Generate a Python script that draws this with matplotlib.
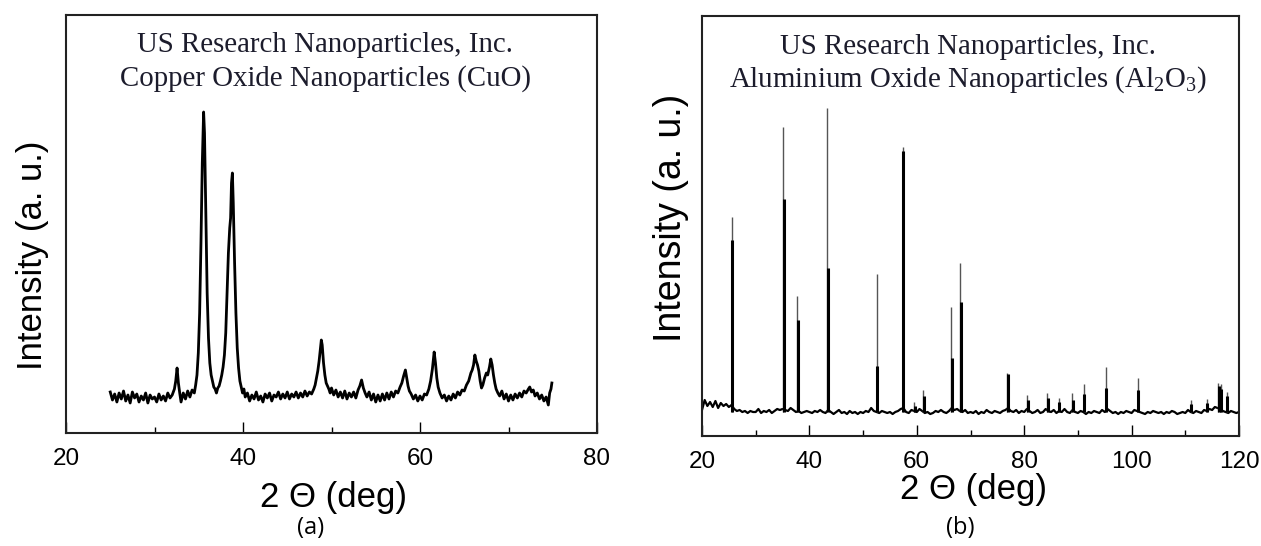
import numpy as np
import matplotlib
matplotlib.use('Agg')
import matplotlib.pyplot as plt
from matplotlib.ticker import MultipleLocator

plt.rcParams['font.family'] = 'Liberation Sans'
plt.rcParams['mathtext.fontset'] = 'custom'
plt.rcParams['mathtext.rm'] = 'Liberation Serif'

### (a) CuO pattern (intensity in a.u.) ###
cuo_two_theta = [
    25.0, 25.25, 25.5, 25.75, 26.0, 26.25, 26.5, 26.75, 27.0, 27.25, 27.5, 27.75, 28.0, 28.25, 28.5,
    28.75, 29.0, 29.25, 29.5, 29.75, 30.0, 30.25, 30.5, 30.75, 31.0, 31.25, 31.5, 31.75, 32.0,
    32.25, 32.4, 32.55, 32.7, 32.85, 33.0, 33.25, 33.5, 33.75, 34.0, 34.25, 34.5, 34.65, 34.8, 34.95,
    35.1, 35.25, 35.4, 35.55, 35.65, 35.8, 35.95, 36.1, 36.25, 36.4, 36.55, 36.7, 36.85, 37.0, 37.15,
    37.3, 37.45, 37.6, 37.75, 37.9, 38.05, 38.2, 38.35, 38.5, 38.6, 38.7, 38.8, 38.9, 39.05, 39.2,
    39.35, 39.5, 39.65, 39.8, 39.95, 40.1,
    40.25, 40.5, 40.75, 41.0, 41.25, 41.5, 41.75, 42.0, 42.25, 42.5, 42.75, 43.0, 43.25, 43.5, 43.75,
    44.0, 44.25, 44.5, 44.75, 45.0, 45.25, 45.5, 45.75, 46.0, 46.25, 46.5, 46.75, 47.0, 47.25, 47.5,
    47.75, 48.0,
    48.15, 48.3, 48.45, 48.6, 48.75, 48.85, 48.95, 49.1, 49.25, 49.4,
    49.55, 49.7, 49.85, 50.0, 50.25, 50.5, 50.75, 51.0, 51.25, 51.5,
    51.75, 52.0, 52.25, 52.5, 52.75, 53.0, 53.2, 53.4, 53.6, 53.8,
    54.0, 54.25, 54.5, 54.75, 55.0, 55.25, 55.5, 55.75, 56.0, 56.25,
    56.5, 56.75, 57.0, 57.25, 57.5, 57.75, 57.95, 58.15, 58.35, 58.5,
    58.65, 58.8, 59.0, 59.25, 59.5, 59.75, 60.0, 60.25, 60.5, 60.75,
    61.0, 61.2, 61.4, 61.6, 61.75, 61.9, 62.05, 62.25, 62.5, 62.75,
    63.0, 63.25, 63.5, 63.75, 64.0, 64.25, 64.5, 64.75, 65.0, 65.25,
    65.5, 65.75, 65.9, 66.05, 66.2, 66.35, 66.5, 66.65, 66.8, 66.95,
    67.1, 67.3, 67.5, 67.65, 67.85, 68.0, 68.15, 68.3, 68.45, 68.6,
    68.8, 69.0, 69.25, 69.5, 69.75, 70.0, 70.25, 70.5, 70.75, 71.0,
    71.25, 71.5, 71.75, 72.0, 72.25, 72.4, 72.6, 72.8, 73.0, 73.25,
    73.5, 73.75, 74.0, 74.25, 74.5, 74.65, 74.8, 74.9,
]
cuo_intensity = [
    41, 33, 39, 31, 40, 34, 42, 32, 38, 30, 41, 35, 39, 31, 37,
    33, 40, 30, 38, 34, 36, 31, 39, 33, 37, 32, 40, 35, 38,
    44, 52, 65, 50, 40, 31, 40, 34, 42, 36, 43, 40, 48, 58, 80,
    120, 190, 270, 321, 300, 220, 140, 95, 70, 58, 52, 46, 44, 40, 45,
    47, 52, 58, 66, 78, 100, 140, 180, 205, 215, 250, 260, 230, 170, 120,
    85, 65, 52, 46, 40, 44,
    36, 40, 32, 38, 34, 41, 33, 37, 31, 39, 35, 40, 32, 38, 36,
    41, 34, 39, 35, 41, 34, 39, 36, 41, 35, 40, 36, 42, 37, 41,
    39, 44,
    48, 55, 62, 72, 85, 93, 88, 70, 58, 50,
    47, 44, 40, 45, 38, 43, 36, 41, 35, 42,
    34, 40, 36, 41, 35, 43, 47, 53, 45, 40,
    36, 41, 33, 39, 31, 38, 32, 39, 33, 40,
    34, 41, 36, 42, 40, 46, 50, 57, 63, 55,
    47, 42, 39, 34, 38, 32, 37, 33, 39, 38,
    44, 52, 64, 81, 70, 55, 46, 40, 35, 38,
    32, 37, 33, 39, 35, 41, 38, 43, 42, 48,
    52, 60, 63, 68, 78, 72, 68, 62, 52, 45,
    48, 55, 60, 58, 66, 74, 68, 58, 50, 44,
    40, 37, 42, 34, 39, 32, 38, 33, 39, 35,
    40, 36, 42, 40, 44, 46, 41, 43, 37, 40,
    34, 38, 32, 36, 28, 40, 44, 50,
]

### (b) Al2O3 pattern: background every 0.5 deg + sharp reflections ###
al_bg_two_theta = np.linspace(20, 120, 201)
al_bg_intensity = [
    26, 36, 30, 34, 29, 35, 28, 33, 30, 32,
    29, 31, 27, 25, 26, 24, 25, 23, 25, 24,
    24, 27, 23, 25, 24, 26, 23, 25, 27, 26,
    27, 26, 25, 28, 26, 24, 25, 23, 24, 25,
    24, 23, 25, 24, 26, 24, 23, 26, 24, 22,
    24, 26, 23, 24, 22, 25, 23, 24, 22, 24,
    23, 25, 24, 28, 25, 24, 23, 25, 24, 23,
    24, 22, 24, 25, 27, 28, 24, 23, 26, 25,
    24, 27, 25, 23, 24, 22, 23, 25, 24, 26,
    24, 23, 25, 28, 26, 27, 25, 24, 26, 23,
    24, 23, 25, 22, 24, 23, 26, 24, 23, 25,
    24, 23, 25, 26, 28, 25, 24, 26, 23, 25,
    24, 27, 25, 23, 24, 26, 23, 24, 27, 25,
    24, 26, 23, 25, 24, 27, 24, 23, 26, 24,
    23, 25, 24, 22, 24, 23, 25, 24, 23, 26,
    24, 27, 25, 23, 24, 22, 24, 23, 25, 24,
    23, 26, 25, 24, 23, 22, 24, 23, 25, 24,
    23, 24, 22, 24, 23, 25, 24, 22, 23, 24,
    23, 26, 24, 23, 25, 24, 23, 26, 25, 27,
    26, 29, 28, 27, 25, 24, 23, 25, 24, 23,
    24,
]
al_peak_pos = [25.5, 35.1, 37.7, 43.3, 52.5, 57.4, 59.5, 61.2, 66.4, 68.1, 76.8, 80.6,
               84.3, 86.4, 88.9, 91.1, 95.2, 101.1, 111.0, 114.0, 116.1, 116.6, 117.7]
al_peak_top = [219, 309, 140, 328, 162, 289, 34, 46, 129, 173, 63, 41,
               43, 38, 43, 52, 69, 58, 36, 37, 53, 52, 44]
al_peak_core = [196, 237, 116, 168, 70, 285, 30, 40, 78, 134, 62, 36,
                38, 34, 36, 42, 48, 46, 32, 33, 50, 47, 40]
AL_BASE = 24

assert len(cuo_two_theta) == len(cuo_intensity)
assert len(al_bg_two_theta) == len(al_bg_intensity)

### Figure ###
fig = plt.figure(figsize=(12.61, 5.46), dpi=100)
ax_a = fig.add_axes([66 / 1261, 113 / 546, 531 / 1261, 418 / 546])
ax_b = fig.add_axes([702 / 1261, 110 / 546, 537 / 1261, 420 / 546])

title_color = '#1c1c2c'
serif = 'Liberation Serif'

def style_axes(ax, xmax, ymax):
    ax.set_xlim(20, xmax)
    ax.set_ylim(0, ymax)
    ax.set_yticks([])
    ax.xaxis.set_major_locator(MultipleLocator(20))
    ax.xaxis.set_minor_locator(MultipleLocator(10))
    ax.tick_params(axis='x', which='major', direction='in', length=8, width=1.0,
                   labelsize=17.5, pad=11, top=False)
    ax.tick_params(axis='x', which='minor', direction='in', length=4.5, width=1.0, top=False)
    for sp in ax.spines.values():
        sp.set_linewidth(1.5)
        sp.set_color('#222222')

# (a) CuO
ax_a.plot(cuo_two_theta, cuo_intensity, color='k', lw=2.0)
style_axes(ax_a, 80, 418)
ax_a.text(0.488, 0.928, 'US Research Nanoparticles, Inc.', transform=ax_a.transAxes,
          ha='center', va='center', fontsize=20.8, family=serif, color=title_color)
ax_a.text(0.488, 0.849, 'Copper Oxide Nanoparticles (CuO)', transform=ax_a.transAxes,
          ha='center', va='center', fontsize=20.8, family=serif, color=title_color)

# (b) Al2O3
ax_b.plot(al_bg_two_theta, al_bg_intensity, color='k', lw=1.6)
ax_b.vlines(al_peak_pos, AL_BASE, al_peak_top, color='#555555', lw=1.0)
ax_b.vlines(np.array(al_peak_pos) + 0.12, AL_BASE, al_peak_core, color='k', lw=2.2)
style_axes(ax_b, 120, 420)
ax_b.text(0.495, 0.926, 'US Research Nanoparticles, Inc.', transform=ax_b.transAxes,
          ha='center', va='center', fontsize=20.8, family=serif, color=title_color)
ax_b.text(0.495, 0.848, r'Aluminium Oxide Nanoparticles (Al$_\mathregular{2}$O$_\mathregular{3}$)',
          transform=ax_b.transAxes, ha='center', va='center', fontsize=20.8, family=serif,
          color=title_color)

# axis labels
fig.text(33 / 1261, 1 - 255 / 546, 'Intensity (a. u.)', rotation=90, ha='center', va='center',
         fontsize=25)
fig.text(671 / 1261, 1 - 218 / 546, 'Intensity (a. u.)', rotation=90, ha='center', va='center',
         fontsize=27)
fig.text(333 / 1261, 1 - 497 / 546, '2 \u0398 (deg)', ha='center', va='center', fontsize=25)
fig.text(973 / 1261, 1 - 490 / 546, '2 \u0398 (deg)', ha='center', va='center', fontsize=25)

# panel letters
fig.text(311 / 1261, 1 - 528 / 546, '(a)', ha='center', va='center', fontsize=17, family='Open Sans')
fig.text(960 / 1261, 1 - 528 / 546, '(b)', ha='center', va='center', fontsize=17, family='Open Sans')

fig.savefig('out.png', dpi=100)
